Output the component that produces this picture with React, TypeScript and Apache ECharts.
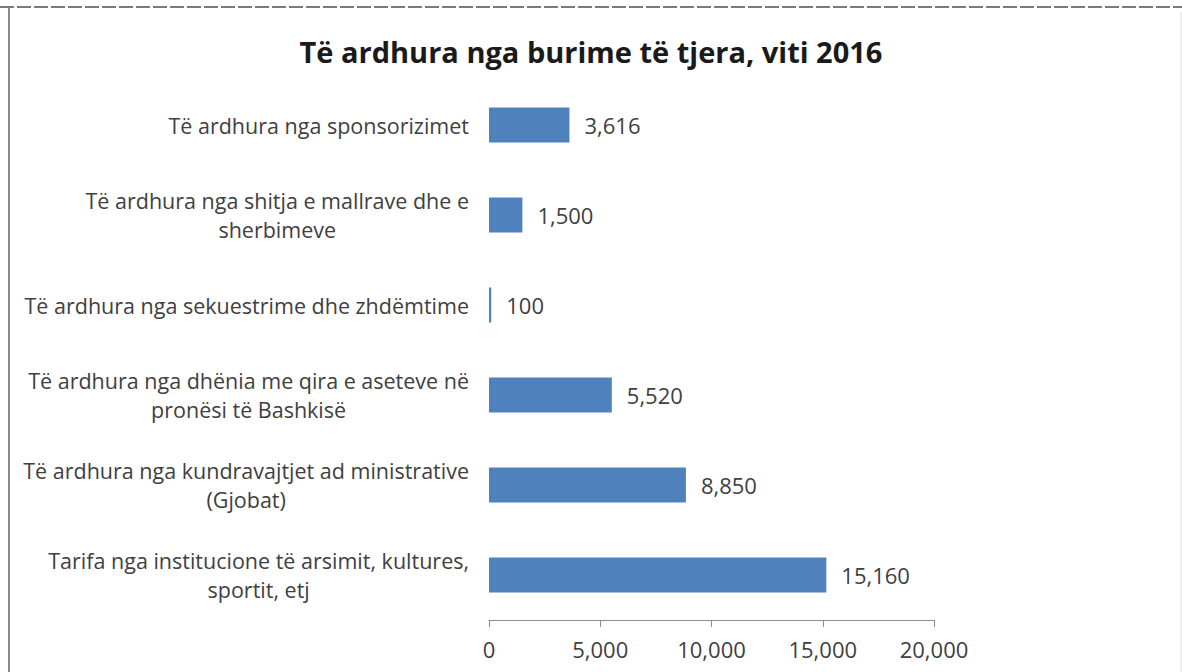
import React, { useEffect, useRef } from "react";
import * as echarts from "echarts";

const titleText = "Të ardhura nga burime të tjera, viti 2016";
const categories = [
  "Të ardhura nga sponsorizimet",
  "Të ardhura nga shitja e mallrave dhe e\nsherbimeve",
  "Të ardhura nga sekuestrime dhe zhdëmtime",
  "Të ardhura nga dhënia me qira e aseteve në\npronësi të Bashkisë",
  "Të ardhura nga kundravajtjet ad ministrative\n(Gjobat)",
  "Tarifa nga institucione të arsimit, kultures,\nsportit, etj",
];
const values = [3616, 1500, 100, 5520, 8850, 15160];
const xMin = 0;
const xMax = 20000;
const xStep = 5000;

const FONT = "'Open Sans', Lato, sans-serif";
const TEXT = "#404040";
const FS = 21.5;
const FN = 22;

export default function App() {
  const ref = useRef<HTMLDivElement>(null);
  useEffect(() => {
    if (!ref.current) return;
    const chart = echarts.init(ref.current, undefined, { renderer: "svg" });
    chart.setOption({
      animation: false,
      backgroundColor: "#ffffff",
      title: {
        text: titleText,
        left: "center",
        top: 32,
        textStyle: { fontFamily: FONT, fontWeight: "bold", fontSize: 29, color: "#1a1a1a" },
      },
      grid: { left: 489, right: 248, top: 80, bottom: 52, containLabel: false },
      xAxis: {
        type: "value",
        min: xMin,
        max: xMax,
        interval: xStep,
        splitLine: { show: false },
        axisLine: { show: true, lineStyle: { color: "#8c8c8c", width: 1 } },
        axisTick: { show: true, length: 7, lineStyle: { color: "#8c8c8c" } },
        axisLabel: {
          margin: 18,
          fontFamily: FONT,
          fontSize: FN,
          color: TEXT,
          formatter: (v: number) => v.toLocaleString("en-US"),
        },
      },
      yAxis: {
        type: "category",
        inverse: true,
        data: categories,
        axisLine: { show: false },
        axisTick: { show: false },
        axisLabel: {
          margin: 20,
          fontFamily: FONT,
          fontSize: FS,
          color: TEXT,
          lineHeight: 29,
          formatter: (v: string) => v.split("\n").map((l) => `{c|${l}}`).join("\n"),
          rich: {
            c: { align: "center", fontFamily: FONT, fontSize: FS, color: TEXT, lineHeight: 29 },
          },
        },
      },
      series: [
        {
          type: "bar",
          data: values,
          barWidth: 35,
          itemStyle: { color: "#4F81BD" },
          label: {
            show: true,
            position: "right",
            distance: 15,
            fontFamily: FONT,
            fontSize: FN,
            color: TEXT,
            formatter: (p: any) => Number(p.value).toLocaleString("en-US"),
          },
        },
      ],
      graphic: [
        {
          type: "line",
          shape: { x1: 0, y1: 7, x2: 1182, y2: 7 },
          style: { stroke: "#7a7a7a", lineWidth: 2, lineDash: [14, 3] },
        },
        {
          type: "line",
          shape: { x1: 9, y1: 8, x2: 9, y2: 672 },
          style: { stroke: "#8a8a8a", lineWidth: 2 },
        },
        {
          type: "line",
          shape: { x1: 1181, y1: 12, x2: 1181, y2: 672 },
          style: { stroke: "#dddddd", lineWidth: 1 },
        },
      ],
    });
    return () => chart.dispose();
  }, []);
  return (
    <div
      ref={ref}
      style={{ position: "absolute", left: 0, top: 0, width: 1182, height: 672 }}
    />
  );
}
